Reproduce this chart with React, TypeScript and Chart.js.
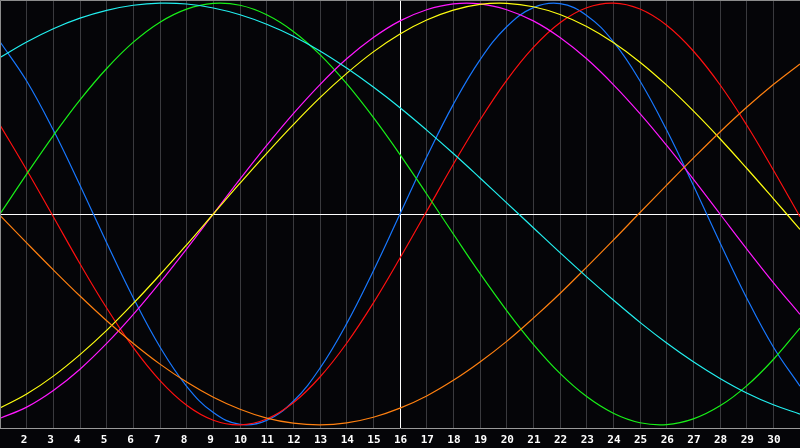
import { useEffect, useRef } from "react";
import { Chart, registerables, ChartConfiguration, Plugin } from "chart.js";

Chart.register(...registerables);

// days of the month shown on the x axis
const days = [
  1, 2, 3, 4, 5, 6, 7, 8, 9, 10, 11, 12, 13, 14, 15, 16,
  17, 18, 19, 20, 21, 22, 23, 24, 25, 26, 27, 28, 29, 30, 31,
];
const today = 16;

// values, one per day, -1 .. 1
const physical = [
  0.817, 0.631, 0.398, 0.136, -0.136, -0.398, -0.631, -0.817, -0.942, -0.998, -0.979,
  -0.888, -0.731, -0.52, -0.27, 0, 0.27, 0.52, 0.731, 0.888, 0.979, 0.998, 0.942, 0.817,
  0.631, 0.398, 0.136, -0.136, -0.398, -0.631, -0.817,
];
const emotional = [
  0.422, 0.209, -0.013, -0.236, -0.446, -0.634, -0.79, -0.907, -0.978, -1.0, -0.972,
  -0.895, -0.773, -0.613, -0.422, -0.209, 0.013, 0.236, 0.446, 0.634, 0.79, 0.907, 0.978,
  1.0, 0.972, 0.895, 0.773, 0.613, 0.422, 0.209, -0.013,
];
const intellectual = [
  0, 0.189, 0.372, 0.541, 0.69, 0.815, 0.91, 0.972, 0.999, 0.99, 0.945, 0.866, 0.756,
  0.618, 0.458, 0.282, 0.095, -0.095, -0.282, -0.458, -0.618, -0.756, -0.866, -0.945,
  -0.99, -0.999, -0.972, -0.91, -0.815, -0.69, -0.541,
];
const intuitive = [
  -0.969, -0.916, -0.837, -0.736, -0.614, -0.476, -0.325, -0.165, 0, 0.165, 0.325, 0.476,
  0.614, 0.736, 0.837, 0.916, 0.969, 0.997, 0.997, 0.969, 0.916, 0.837, 0.736, 0.614,
  0.476, 0.325, 0.165, 0, -0.165, -0.325, -0.476,
];
const aesthetic = [
  -0.92, -0.854, -0.769, -0.667, -0.552, -0.424, -0.288, -0.146, 0, 0.146, 0.288, 0.424,
  0.552, 0.667, 0.769, 0.854, 0.92, 0.967, 0.994, 0.999, 0.983, 0.946, 0.889, 0.813, 0.72,
  0.611, 0.489, 0.357, 0.217, 0.073, -0.073,
];
const awareness = [
  -0.007, -0.137, -0.265, -0.389, -0.506, -0.614, -0.712, -0.797, -0.869, -0.926, -0.968,
  -0.992, -1.0, -0.991, -0.964, -0.921, -0.863, -0.789, -0.702, -0.604, -0.494, -0.377,
  -0.252, -0.124, 0.007, 0.137, 0.265, 0.389, 0.506, 0.614, 0.712,
];
const spiritual = [
  0.742, 0.816, 0.879, 0.929, 0.966, 0.99, 1.0, 0.996, 0.977, 0.945, 0.9, 0.843, 0.773,
  0.692, 0.602, 0.504, 0.398, 0.287, 0.171, 0.053, -0.065, -0.183, -0.298, -0.408, -0.514,
  -0.612, -0.701, -0.78, -0.849, -0.905, -0.949,
];

const series = [
  { label: "Spiritual", values: spiritual, color: "#22f0f0" },
  { label: "Awareness", values: awareness, color: "#ff8010" },
  { label: "Aesthetic", values: aesthetic, color: "#ffff10" },
  { label: "Intuitive", values: intuitive, color: "#ff18ff" },
  { label: "Intellectual", values: intellectual, color: "#18f018" },
  { label: "Emotional", values: emotional, color: "#ff1010" },
  { label: "Physical", values: physical, color: "#1878ff" },
];

// grey frame round the plot area
const framePlugin: Plugin<"line"> = {
  id: "frame",
  afterDraw(chart) {
    const { ctx, chartArea } = chart;
    ctx.save();
    ctx.strokeStyle = "#8c8c8c";
    ctx.lineWidth = 1;
    ctx.beginPath();
    ctx.moveTo(chartArea.left + 0.5, chartArea.bottom);
    ctx.lineTo(chartArea.left + 0.5, chartArea.top + 0.5);
    ctx.lineTo(chartArea.right, chartArea.top + 0.5);
    ctx.stroke();
    ctx.restore();
  },
};

export default function App() {
  const canvasRef = useRef<HTMLCanvasElement>(null);

  useEffect(() => {
    document.body.style.margin = "0";
    if (!canvasRef.current) return;

    const config: ChartConfiguration<"line"> = {
      type: "line",
      data: {
        datasets: series.map((s) => ({
          label: s.label,
          data: days.map((d, i) => ({ x: d, y: s.values[i] })),
          borderColor: s.color,
          borderWidth: 1.2,
          pointRadius: 0,
          tension: 0.4,
          fill: false,
        })),
      },
      options: {
        responsive: true,
        maintainAspectRatio: false,
        animation: false,
        layout: { padding: 0 },
        plugins: {
          legend: { display: false },
          tooltip: { enabled: false },
        },
        scales: {
          x: {
            type: "linear",
            min: days[0],
            max: days[days.length - 1],
            afterFit: (scale) => {
              scale.height = 20;
              scale.paddingLeft = 0;
              scale.paddingRight = 0;
            },
            ticks: {
              stepSize: 1,
              autoSkip: false,
              maxRotation: 0,
              padding: 5,
              align: "start",
              labelOffset: -6,
              color: "#ffffff",
              font: { family: "DejaVu Sans Mono", size: 11, weight: "bold", lineHeight: 1.273 },
              callback: (v) => {
                const n = Number(v);
                return n === days[0] || n === days[days.length - 1] ? "" : String(n);
              },
            },
            grid: {
              drawTicks: false,
              color: (c) => (c.tick && c.tick.value === today ? "#ffffff" : "#3a3a3e"),
            },
            border: { display: true, color: "#9a9a9a" },
          },
          y: {
            min: -1.015,
            max: 1.015,
            afterFit: (scale) => {
              scale.width = 0;
            },
            ticks: { display: false, stepSize: 1 },
            grid: {
              drawTicks: false,
              color: (c) => (c.tick && c.tick.value === 0 ? "#ffffff" : "rgba(0,0,0,0)"),
            },
            border: { display: false },
          },
        },
      },
      plugins: [framePlugin],
    };

    const chart = new Chart(canvasRef.current, config);
    return () => chart.destroy();
  }, []);

  return (
    <div style={{ width: 800, height: 448, background: "#050508", position: "relative" }}>
      <canvas ref={canvasRef} />
    </div>
  );
}
